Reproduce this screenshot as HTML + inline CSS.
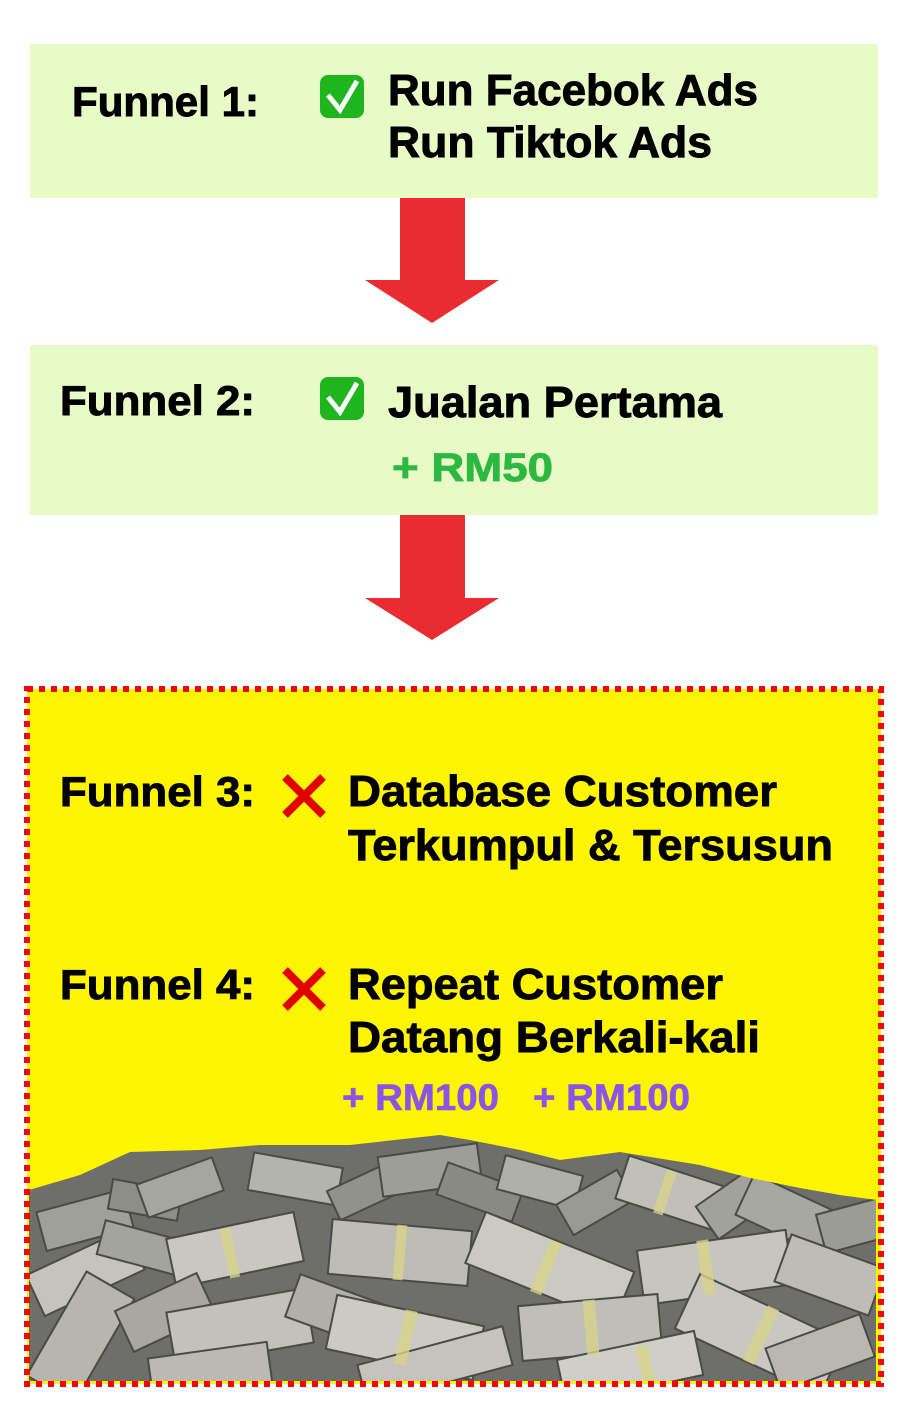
<!DOCTYPE html>
<html><head><meta charset="utf-8"><style>
html,body{margin:0;padding:0;background:#fff;width:920px;height:1425px;overflow:hidden}
svg{display:block}
text{font-family:"Liberation Sans","DejaVu Sans",sans-serif;font-weight:bold}
.b{stroke:#000;stroke-width:0.9}
</style></head><body>
<svg width="920" height="1425" viewBox="0 0 920 1425" xmlns="http://www.w3.org/2000/svg">
<defs><clipPath id="c"><polygon points="29,1190 80,1175 130,1152 200,1150 260,1145 350,1145 440,1135 470,1140 520,1150 560,1160 620,1152 700,1165 750,1178 800,1188 840,1195 876,1200 876,1381 29,1381"/></clipPath></defs>
<rect x="0" y="0" width="920" height="1425" fill="#fff"/>
<rect x="30" y="44" width="848" height="154" fill="#e8fbc6"/>
<text class="b" x="72" y="116" font-size="42" textLength="187" lengthAdjust="spacingAndGlyphs">Funnel 1:</text>
<rect x="320" y="75" width="44" height="43" rx="8" fill="#1fb51f"/>
<path d="M328 95 L340 110 L357 81" stroke="#fff" stroke-width="5" fill="none"/>
<text class="b" x="388" y="105" font-size="44" textLength="370" lengthAdjust="spacingAndGlyphs">Run Facebok Ads</text>
<text class="b" x="388" y="157" font-size="44" textLength="324" lengthAdjust="spacingAndGlyphs">Run Tiktok Ads</text>
<polygon points="400,198 465,198 465,280 499,280 432,323 365,280 400,280" fill="#ea2b2f"/>
<rect x="30" y="345" width="848" height="170" fill="#e8fbc6"/>
<text class="b" x="60" y="415" font-size="42" textLength="195" lengthAdjust="spacingAndGlyphs">Funnel 2:</text>
<rect x="320" y="377" width="44" height="43" rx="8" fill="#1fb51f"/>
<path d="M328 397 L340 412 L357 383" stroke="#fff" stroke-width="5" fill="none"/>
<text class="b" x="388" y="417" font-size="44" textLength="334" lengthAdjust="spacingAndGlyphs">Jualan Pertama</text>
<text x="392" y="481" font-size="40" fill="#2db842" stroke="#2db842" stroke-width="0.8" textLength="161" lengthAdjust="spacingAndGlyphs">+ RM50</text>
<polygon points="400,515 465,515 465,598 499,598 432,640 365,598 400,598" fill="#ea2b2f"/>
<rect x="27" y="689" width="854" height="695" fill="#fff500"/>
<text class="b" x="60" y="806" font-size="42" textLength="195" lengthAdjust="spacingAndGlyphs">Funnel 3:</text>
<path d="M285 777 L323 815 M323 777 L285 815" stroke="#e00000" stroke-width="8"/>
<text class="b" x="348" y="806" font-size="44" textLength="429" lengthAdjust="spacingAndGlyphs">Database Customer</text>
<text class="b" x="348" y="860" font-size="44" textLength="485" lengthAdjust="spacingAndGlyphs">Terkumpul &amp; Tersusun</text>
<text class="b" x="60" y="999" font-size="42" textLength="195" lengthAdjust="spacingAndGlyphs">Funnel 4:</text>
<path d="M285 970 L323 1008 M323 970 L285 1008" stroke="#e00000" stroke-width="8"/>
<text class="b" x="348" y="999" font-size="44" textLength="375" lengthAdjust="spacingAndGlyphs">Repeat Customer</text>
<text class="b" x="348" y="1052" font-size="44" textLength="412" lengthAdjust="spacingAndGlyphs">Datang Berkali-kali</text>
<text x="342" y="1110" font-size="37" fill="#8a55e6" stroke="#8a55e6" stroke-width="0.6" textLength="157" lengthAdjust="spacingAndGlyphs">+ RM100</text>
<text x="533" y="1110" font-size="37" fill="#8a55e6" stroke="#8a55e6" stroke-width="0.6" textLength="157" lengthAdjust="spacingAndGlyphs">+ RM100</text>
<g clip-path="url(#c)">
<rect x="29" y="1130" width="850" height="260" fill="#6e6e6a"/>
<g stroke="#4a4a46" stroke-width="2">
<rect x="40" y="1200" width="90" height="40" fill="#a0a09a" transform="rotate(-15 85 1220)"/>
<rect x="110" y="1185" width="70" height="30" fill="#8e8e88" transform="rotate(10 145 1200)"/>
<rect x="140" y="1170" width="80" height="35" fill="#a6a6a0" transform="rotate(-20 180 1187)"/>
<rect x="250" y="1160" width="90" height="38" fill="#b4b4ae" transform="rotate(10 295 1180)"/>
<rect x="330" y="1175" width="70" height="32" fill="#92928c" transform="rotate(-25 365 1190)"/>
<rect x="380" y="1150" width="100" height="40" fill="#9e9e98" transform="rotate(-8 430 1170)"/>
<rect x="440" y="1175" width="80" height="34" fill="#8a8a84" transform="rotate(20 480 1192)"/>
<rect x="500" y="1165" width="80" height="35" fill="#b0b0aa" transform="rotate(15 540 1182)"/>
<rect x="560" y="1185" width="70" height="35" fill="#9a9a94" transform="rotate(-30 595 1202)"/>
<rect x="620" y="1170" width="100" height="45" fill="#c0c0b8" transform="rotate(18 670 1192)"/>
<rect x="700" y="1180" width="80" height="40" fill="#a2a29c" transform="rotate(-35 740 1200)"/>
<rect x="740" y="1195" width="110" height="45" fill="#a8a8a2" transform="rotate(25 795 1217)"/>
<rect x="820" y="1205" width="70" height="40" fill="#9c9c96" transform="rotate(-15 855 1225)"/>
<rect x="30" y="1250" width="110" height="45" fill="#c4c4bc" transform="rotate(-25 85 1272)"/>
<rect x="100" y="1230" width="80" height="35" fill="#a4a49e" transform="rotate(15 140 1247)"/>
<rect x="170" y="1225" width="130" height="50" fill="#c8c8c0" transform="rotate(-12 235 1250)"/>
<rect x="330" y="1225" width="140" height="55" fill="#bdbdb6" transform="rotate(5 400 1252)"/>
<rect x="470" y="1240" width="160" height="55" fill="#cacac2" transform="rotate(22 550 1267)"/>
<rect x="640" y="1240" width="150" height="55" fill="#c6c6be" transform="rotate(-8 715 1267)"/>
<rect x="780" y="1250" width="100" height="50" fill="#bdbdb6" transform="rotate(20 830 1275)"/>
<rect x="20" y="1310" width="120" height="55" fill="#b6b6ae" transform="rotate(-60 80 1337)"/>
<rect x="120" y="1290" width="90" height="45" fill="#a8a8a0" transform="rotate(-25 165 1312)"/>
<rect x="170" y="1300" width="140" height="55" fill="#c2c2ba" transform="rotate(-10 240 1327)"/>
<rect x="290" y="1290" width="100" height="45" fill="#b0b0a8" transform="rotate(20 340 1312)"/>
<rect x="330" y="1310" width="150" height="55" fill="#cbcbc3" transform="rotate(12 405 1337)"/>
<rect x="520" y="1300" width="140" height="55" fill="#bfbfb8" transform="rotate(-5 590 1327)"/>
<rect x="680" y="1305" width="160" height="60" fill="#c8c8c0" transform="rotate(25 760 1335)"/>
<rect x="360" y="1345" width="150" height="40" fill="#c4c4bc" transform="rotate(-15 435 1365)"/>
<rect x="560" y="1345" width="140" height="45" fill="#cfcfc8" transform="rotate(-12 630 1367)"/>
<rect x="770" y="1330" width="100" height="45" fill="#b8b8b0" transform="rotate(-20 820 1352)"/>
<rect x="150" y="1350" width="120" height="40" fill="#babab2" transform="rotate(-8 210 1370)"/>
</g>
<g fill="#d8d48a" opacity="0.8">
<rect x="225" y="1228" width="10" height="50" transform="rotate(-12 230 1253)"/>
<rect x="540" y="1240" width="12" height="55" transform="rotate(22 546 1267)"/>
<rect x="700" y="1240" width="12" height="55" transform="rotate(-8 706 1267)"/>
<rect x="395" y="1225" width="10" height="55" transform="rotate(5 400 1252)"/>
<rect x="400" y="1310" width="12" height="55" transform="rotate(12 406 1337)"/>
<rect x="755" y="1305" width="12" height="60" transform="rotate(25 761 1335)"/>
<rect x="585" y="1300" width="12" height="55" transform="rotate(-5 591 1327)"/>
<rect x="660" y="1170" width="10" height="45" transform="rotate(18 665 1192)"/>
<rect x="640" y="1345" width="12" height="45" transform="rotate(-12 646 1367)"/>
</g>
</g>
<rect x="27" y="689" width="854" height="695" fill="none" stroke="#ff0000" stroke-width="6" stroke-dasharray="6 6"/>
</svg>
</body></html>
